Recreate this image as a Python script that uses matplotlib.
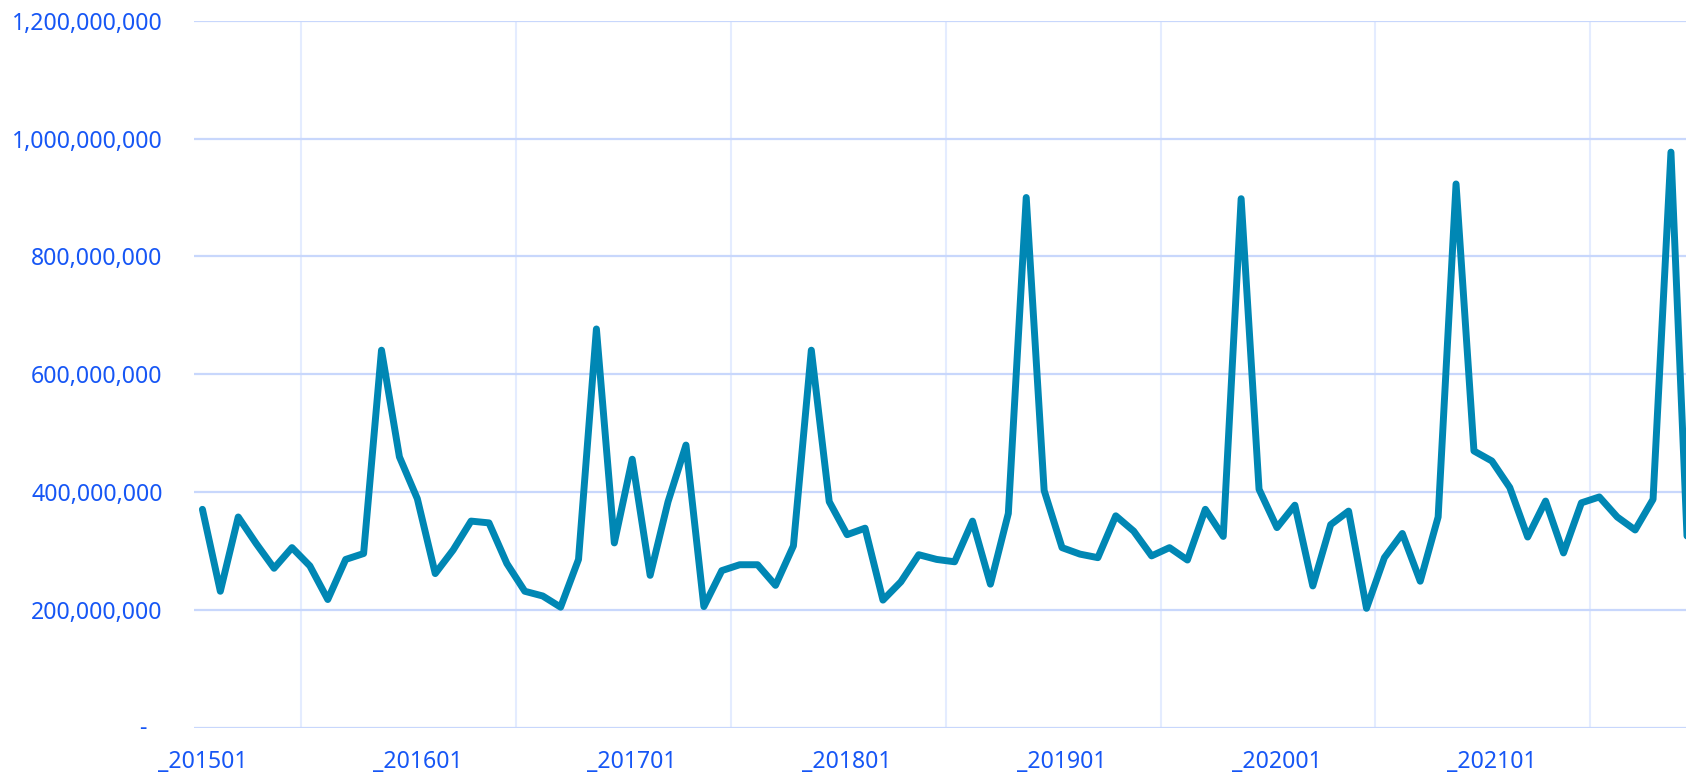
import matplotlib
matplotlib.use("Agg")
import matplotlib.pyplot as plt
from matplotlib.ticker import FixedLocator, FuncFormatter

# ---- data ----
months = [f"{y}{m:02d}" for y in range(2015, 2022) for m in range(1, 13)]
categories = ["_" + s for s in months]
values_m = [
    371, 232, 358, 313, 271, 306, 275, 218, 286, 296, 641, 460,
    389, 262, 302, 351, 348, 279, 232, 224, 205, 286, 677, 314,
    456, 259, 384, 480, 206, 267, 277, 277, 242, 309, 641, 384,
    328, 339, 217, 248, 294, 286, 282, 351, 244, 364, 900, 403,
    306, 295, 289, 360, 334, 292, 306, 285, 371, 325, 898, 405,
    340, 378, 241, 345, 368, 203, 289, 330, 249, 358, 923, 470,
    453, 408, 324, 385, 297, 382, 392, 358, 336, 388, 977, 250,
]
values = [v * 1_000_000 for v in values_m]
y_ticks = [0, 200_000_000, 400_000_000, 600_000_000, 800_000_000,
           1_000_000_000, 1_200_000_000]
label_every = 12

# ---- style ----
LINE = "#0087b4"
HGRID = "#c8d7fc"
VGRID = "#e4ecff"
TXT = "#1656f5"
FAMILY = ["Noto Sans", "DejaVu Sans"]
FSIZE = 16.6

W, H, DPI = 1686, 773, 100
fig = plt.figure(figsize=(W / DPI, H / DPI), dpi=DPI)
left, right, bottom, top = 194, 1686, 728, 20.7
ax = fig.add_axes([left / W, (H - bottom) / H, (right - left) / W, (bottom - top) / H])

x = list(range(len(values)))
ax.plot(x, values, color=LINE, lw=5.0, solid_capstyle="round",
        solid_joinstyle="round", zorder=3)

ax.set_xlim(-0.47, 82.84)
ax.set_ylim(0, 1_200_000_000)

# x ticks: labels at every 12th category, gridlines between
label_pos = list(range(0, len(categories), label_every))
ax.set_xticks(label_pos)
ax.set_xticklabels([categories[i] for i in label_pos])
for gx in [p + 5.5 for p in label_pos]:
    ax.axvline(gx, color=VGRID, lw=1.5, zorder=1)

ax.yaxis.set_major_locator(FixedLocator(y_ticks))
ax.yaxis.set_major_formatter(FuncFormatter(lambda v, p: "" if v == 0 else f"{int(v):,}"))
for gy in y_ticks:
    ax.axhline(gy, color=HGRID, lw=1.6, zorder=2)

ax.tick_params(axis="both", length=0, colors=TXT)
ax.tick_params(axis="y", pad=22.5)
ax.tick_params(axis="x", pad=16)
for lab in ax.get_xticklabels() + ax.get_yticklabels():
    lab.set_fontfamily(FAMILY)
    lab.set_fontsize(FSIZE)
    lab.set_color(TXT)

# zero label shown as a dash (accounting style)
ax.annotate("-", xy=(0, 0), xycoords=("axes fraction", "data"),
            xytext=(-47, 0), textcoords="offset pixels", ha="right",
            va="center", color=TXT, fontfamily=FAMILY, fontsize=FSIZE,
            annotation_clip=False)

for s in ax.spines.values():
    s.set_visible(False)
ax.set_facecolor("white")
fig.patch.set_facecolor("white")

fig.savefig("out.png", dpi=DPI)
